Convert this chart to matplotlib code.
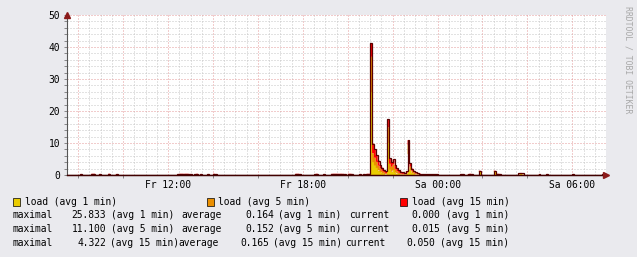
import matplotlib
matplotlib.use('Agg')
import matplotlib.pyplot as plt
import numpy as np
from matplotlib.patches import Rectangle

W, H, DPI = 637, 257, 100

# ---------------- data ----------------
# time axis: minutes since Friday 00:00, 5-minute samples
t_start_min = 450      # Fr 07:30
t_end_min = 1890       # Sa 07:30
step_min = 5

xtick_pos = [12, 18, 24, 30]
xtick_labels = ['Fr 12:00', 'Fr 18:00', 'Sa 00:00', 'Sa 06:00']
ytick_vals = [0, 10, 20, 30, 40, 50]

# non-zero samples (minutes since Fr 00:00) and stacked load components
sample_min = [485, 515, 520, 535, 560, 580,
              745, 750, 755, 760, 765, 770, 775, 780, 790, 795, 805, 825, 840, 845,
              1060, 1065, 1070, 1110, 1115, 1135,
              1155, 1160, 1165, 1170, 1175, 1180, 1185, 1190, 1200, 1205, 1210,
              1230, 1240, 1250, 1255,
              1260, 1265, 1270, 1275, 1280, 1285, 1290, 1295, 1300,
              1305, 1310, 1315, 1320, 1325, 1330, 1335, 1340, 1345, 1350, 1355,
              1360, 1365, 1370, 1375, 1380, 1385, 1390,
              1395, 1400, 1405, 1410, 1415, 1420, 1425, 1430, 1435,
              1500, 1505, 1520, 1525, 1530, 1550, 1590, 1595, 1600, 1605,
              1655, 1660, 1665, 1710, 1730, 1800, 1880]
load1 = [0.10, 0.12, 0.12, 0.10, 0.12, 0.10,
         0.10, 0.12, 0.12, 0.10, 0.12, 0.12, 0.10, 0.10, 0.10, 0.12, 0.10, 0.10, 0.12, 0.10,
         0.12, 0.12, 0.10, 0.10, 0.12, 0.10,
         0.10, 0.12, 0.12, 0.12, 0.10, 0.12, 0.10, 0.10, 0.12, 0.12, 0.10,
         0.10, 0.10, 0.12, 0.12,
         25.833, 4.0, 3.0, 2.2, 1.4, 0.9, 0.5, 0.3, 0.15,
         10.0, 1.6, 1.0, 1.5, 0.7, 0.4, 0.2, 0.1, 0.1, 0.1, 0.2,
         6.5, 1.5, 0.6, 0.3, 0.15, 0.1, 0.1,
         0.1, 0.1, 0.1, 0.1, 0.1, 0.1, 0.1, 0.1, 0.1,
         0.10, 0.10, 0.10, 0.12, 0.10, 1.0, 1.0, 0.12, 0.12, 0.10,
         0.15, 0.20, 0.15, 0.10, 0.10, 0.10, 0.10]
load5 = [0.10, 0.12, 0.12, 0.10, 0.12, 0.10,
         0.10, 0.12, 0.12, 0.12, 0.12, 0.12, 0.10, 0.10, 0.10, 0.12, 0.10, 0.10, 0.12, 0.10,
         0.12, 0.12, 0.10, 0.10, 0.12, 0.10,
         0.12, 0.12, 0.12, 0.12, 0.12, 0.12, 0.12, 0.10, 0.12, 0.12, 0.10,
         0.10, 0.10, 0.12, 0.12,
         11.100, 2.8, 2.4, 1.9, 1.5, 1.1, 0.8, 0.6, 0.4,
         4.9, 1.9, 1.6, 1.8, 1.2, 0.8, 0.5, 0.35, 0.25, 0.15, 0.4,
         2.9, 1.1, 0.7, 0.5, 0.35, 0.25, 0.15,
         0.1, 0.1, 0.1, 0.1, 0.1, 0.1, 0.1, 0.1, 0.1,
         0.10, 0.10, 0.10, 0.12, 0.10, 0.25, 0.25, 0.12, 0.12, 0.10,
         0.30, 0.30, 0.30, 0.10, 0.10, 0.10, 0.10]
load15 = [0.12, 0.14, 0.14, 0.12, 0.14, 0.12,
          0.12, 0.14, 0.14, 0.14, 0.14, 0.14, 0.12, 0.12, 0.12, 0.14, 0.12, 0.12, 0.14, 0.12,
          0.14, 0.14, 0.12, 0.12, 0.14, 0.12,
          0.14, 0.14, 0.14, 0.14, 0.14, 0.14, 0.14, 0.12, 0.14, 0.14, 0.12,
          0.12, 0.12, 0.14, 0.14,
          4.322, 3.0, 2.6, 2.1, 1.6, 1.2, 1.0, 0.7, 0.55,
          2.5, 1.7, 1.4, 1.6, 1.2, 1.0, 0.8, 0.6, 0.45, 0.35, 0.5,
          1.5, 1.0, 0.7, 0.5, 0.4, 0.3, 0.2,
          0.1, 0.1, 0.1, 0.1, 0.1, 0.1, 0.1, 0.1, 0.1,
          0.12, 0.12, 0.12, 0.14, 0.12, 0.10, 0.10, 0.14, 0.14, 0.12,
          0.15, 0.15, 0.15, 0.12, 0.12, 0.12, 0.12]

legend_names = ['load (avg 1 min)', 'load (avg 5 min)', 'load (avg 15 min)']
stat_labels = ['(avg 1 min)', '(avg 5 min)', '(avg 15 min)']
maximal = ['25.833', '11.100', '4.322']
average = ['0.164', '0.152', '0.165']
current = ['0.000', '0.015', '0.050']

# ---------------- styling ----------------
BG = '#EAEAEE'
YELLOW = '#EACC00'
ORANGE = '#EA8F00'
RED = '#FF0000'
DARK = '#5A0000'
MONO = 'DejaVu Sans Mono'
FS = 6.9

# build full sample grid
grid_min = np.arange(t_start_min, t_end_min, step_min)
l1 = np.zeros(len(grid_min))
l5 = np.zeros(len(grid_min))
l15 = np.zeros(len(grid_min))
for m, a, b, c in zip(sample_min, load1, load5, load15):
    i = (m - t_start_min) // step_min
    l1[i], l5[i], l15[i] = a, b, c
edges = np.append(grid_min, t_end_min) / 60.0
s1 = l1
s2 = l1 + l5
s3 = l1 + l5 + l15

fig = plt.figure(figsize=(W / DPI, H / DPI), dpi=DPI, facecolor=BG)
ax_l, ax_r, ax_t, ax_b = 67, 606, 15, 175
ax = fig.add_axes([ax_l / W, 1 - ax_b / H, (ax_r - ax_l) / W, (ax_b - ax_t) / H])
ax.set_facecolor('white')
ax.set_xlim(t_start_min / 60, t_end_min / 60)
ax.set_ylim(0, 50)

# grid
minor_c = '#C6C6C6'
major_c = '#E59A9A'
dot = (0, (1, 2))
for y in np.arange(2, 50.1, 2):
    if y % 10 == 0:
        continue
    ax.axhline(y, color=minor_c, lw=0.72, ls=dot, zorder=0)
for x in np.arange(8, 31.6, 0.5):
    if x % 2 == 0:
        continue
    ax.axvline(x, color=minor_c, lw=0.72, ls=dot, zorder=0)
for y in ytick_vals[1:]:
    ax.axhline(y, color=major_c, lw=0.72, ls=dot, zorder=1)
for x in np.arange(8, 31.6, 2):
    ax.axvline(x, color=major_c, lw=0.72, ls=dot, zorder=1)

# stacked areas + outline
ax.stairs(s1, edges, baseline=0, fill=True, color=YELLOW, lw=0, zorder=2)
ax.stairs(s2, edges, baseline=s1, fill=True, color=ORANGE, lw=0, zorder=2)
ax.stairs(s3, edges, baseline=s2, fill=True, color=RED, lw=0, zorder=2)
ax.stairs(s3, edges, baseline=None, color=DARK, lw=0.9, zorder=3)

# axes
for sp in ['top', 'right']:
    ax.spines[sp].set_visible(False)
ax.spines['left'].set_color('#555555')
ax.spines['bottom'].set_color('#400000')
ax.spines['left'].set_linewidth(0.8)
ax.spines['bottom'].set_linewidth(0.9)
ax.spines['bottom'].set_zorder(4)

ax.set_yticks(ytick_vals)
ax.set_yticklabels([str(v) for v in ytick_vals], fontfamily=MONO, fontsize=FS)
ax.set_yticks(np.arange(0, 50.1, 2), minor=True)
ax.set_xticks(xtick_pos)
ax.set_xticklabels(xtick_labels, fontfamily=MONO, fontsize=FS)
ax.set_xticks(np.arange(8, 31.6, 2), minor=True)
ax.tick_params(axis='both', which='both', length=2, width=0.6, color='#777777', pad=2)
ax.tick_params(axis='y', which='major', pad=3)
ax.tick_params(axis='x', which='major', length=0, pad=3.5)

# arrows at axis ends
ax.plot([0], [1.0], marker='^', ms=4, color='#8B1A1A', transform=ax.transAxes, clip_on=False, zorder=5)
ax.plot([1.0], [0], marker='>', ms=4, color='#8B1A1A', transform=ax.transAxes, clip_on=False, zorder=5)
ax.plot([0, 1.0], [0, 0], color='#400000', lw=0.9, transform=ax.transAxes, clip_on=False, zorder=4)

# watermark
fig.text(628 / W, 1 - 6 / H, 'RRDTOOL / TOBI OETIKER', rotation=270, ha='center', va='top',
         fontfamily=MONO, fontsize=5.9, color='#A8A8A8')

# legend
def fx(x):
    return x / W

def fy(y):
    return 1 - y / H

box_x = [13, 207, 400]
name_x = [25, 218, 411.7]
for bx, nx, name, col in zip(box_x, name_x, legend_names, [YELLOW, ORANGE, RED]):
    fig.patches.append(Rectangle((fx(bx), fy(205.5)), 6.5 / W, 8 / H, transform=fig.transFigure,
                                 facecolor=col, edgecolor='black', lw=0.5))
    fig.text(fx(nx), fy(201.7), name, fontfamily=MONO, fontsize=FS, va='center', ha='left')

row_y = [215, 229, 243]
lab_x = [[111, 278.5, 445.7], [111, 278.5, 445.7], [110, 273, 439.7]]
num_x = [[106, 274, 440], [106, 274, 440], [106, 268.7, 435]]
word_x = [[13, 181.7, 349], [13, 181.7, 349], [13, 178, 345.5]]
for r in range(3):
    y = fy(row_y[r])
    for k, (word, val) in enumerate(zip(['maximal', 'average', 'current'],
                                        [maximal[r], average[r], current[r]])):
        fig.text(fx(word_x[r][k]), y, word, fontfamily=MONO, fontsize=FS, va='center', ha='left')
        fig.text(fx(num_x[r][k]), y, val, fontfamily=MONO, fontsize=FS, va='center', ha='right')
        fig.text(fx(lab_x[r][k]), y, stat_labels[r], fontfamily=MONO, fontsize=FS, va='center', ha='left')

fig.savefig('out.png', dpi=DPI, facecolor=BG)
